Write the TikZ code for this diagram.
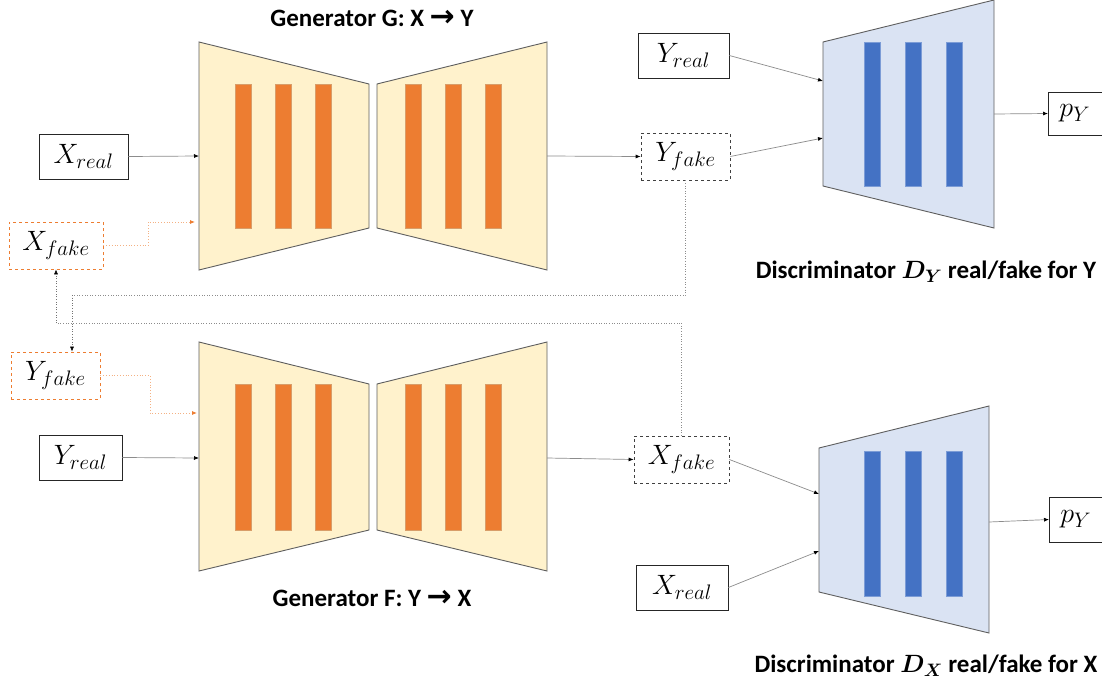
\RequirePackage{fix-cm}
\documentclass[tikz,border=0pt]{standalone}
\usepackage{fontspec}
\usepackage{bm}
\setmainfont{Carlito}
\newfontfamily\arrowfont{DejaVu Sans}
\usetikzlibrary{arrows.meta}
\DeclareMathSizes{28}{28}{21}{16}
\DeclareMathSizes{25}{25}{18}{14}
\definecolor{genfill}{HTML}{FFF2CC}
\definecolor{genbar}{HTML}{ED7D31}
\definecolor{disfill}{HTML}{DAE3F3}
\definecolor{disbar}{HTML}{4472C4}
\definecolor{edgegray}{HTML}{5F5F5F}
\definecolor{linegray}{HTML}{8C8C8C}
\definecolor{orangelight}{HTML}{F4B183}
\tikzset{
  gen/.style={fill=genfill, draw=edgegray, line width=0.9pt},
  gbar/.style={fill=genbar, draw=genbar!80!black!60!genfill, line width=0.4pt},
  dis/.style={fill=disfill, draw=edgegray, line width=0.9pt},
  dbar/.style={fill=disbar, draw=disbar!70!white, line width=0.4pt},
  box/.style={draw=black!85, line width=0.7pt, fill=white, inner sep=0pt, minimum height=45, font=\fontsize{28}{31}\selectfont},
  fakebox/.style={box, draw=black!75, dashed},
  obox/.style={box, draw=genbar, dashed},
  conn/.style={draw=linegray, line width=0.7pt, -{Latex[length=5pt,width=4pt,color=black]}},
  dconn/.style={draw=black!55, line width=0.6pt, dotted, -{Latex[length=5pt,width=4pt,color=black]}},
  dline/.style={draw=black!45, line width=0.6pt, dotted},
  oconn/.style={draw=orangelight, line width=0.8pt, dotted, -{Latex[length=5pt,width=4pt,color=genbar]}},
  captext/.style={font=\fontsize{25}{28}\selectfont\bfseries, inner sep=0pt},
}
\begin{document}
\begin{tikzpicture}[x=1pt,y=-1pt]
\clip (0,0) rectangle (1102,685);
\fill[white] (0,0) rectangle (1102,685);

% ---------- Generator G ----------
\draw[gen] (199,42) -- (369,84) -- (369,228) -- (199,270) -- cycle;
\draw[gen] (377,84) -- (547,42) -- (547,270) -- (377,228) -- cycle;
\foreach \x in {235,275,315,405,445,485} \draw[gbar] (\x,84) rectangle (\x+16,228);
% ---------- Generator F ----------
\draw[gen] (199,342) -- (369,384) -- (369,530) -- (199,571) -- cycle;
\draw[gen] (377,384) -- (547,342) -- (547,571) -- (377,530) -- cycle;
\foreach \x in {235,275,315,405,445,485} \draw[gbar] (\x,384) rectangle (\x+16,530);
% ---------- Discriminator D_Y ----------
\draw[dis] (823,42) -- (994,0) -- (994,228) -- (823,186) -- cycle;
\foreach \x in {864,905,946} \draw[dbar] (\x,42) rectangle (\x+16,186);
% ---------- Discriminator D_X ----------
\draw[dis] (819,448) -- (989,406) -- (989,633) -- (819,592) -- cycle;
\foreach \x in {864,905,946} \draw[dbar] (\x,451) rectangle (\x+16,596);

% ---------- coordinates on shapes ----------
\coordinate (gin)  at (199,156);
\coordinate (gin2) at (199,222);
\coordinate (gout) at (547,156);
\coordinate (fin)  at (199,458);
\coordinate (fin2) at (199,413);
\coordinate (fout) at (547,458);
\coordinate (dyin1) at (823,81);
\coordinate (dyin2) at (823,138);
\coordinate (dyout) at (994,114);
\coordinate (dxin1) at (819,494);
\coordinate (dxin2) at (819,551);
\coordinate (dxout) at (989,522);
\coordinate (c1) at (72,295);
\coordinate (c2) at (56,323);
\coordinate (o1) at (148,0);
\coordinate (o2) at (150,0);

% ---------- boxes ----------
\node[box, minimum width=89] (xr1) at (83.5,156.5) {$X_{real}$};
\node[box, minimum width=83] (yr2) at (80.5,457.5) {$Y_{real}$};
\node[obox, minimum width=94, minimum height=47] (xf1) at (56,245.5) {$X_{fake}$};
\node[obox, minimum width=89, minimum height=47] (yf2) at (55.5,375.5) {$Y_{fake}$};
\node[fakebox, minimum width=89, minimum height=47] (yf1) at (685.5,156.5) {$Y_{fake}$};
\node[fakebox, minimum width=95, minimum height=47] (xf2) at (681.5,459.5) {$X_{fake}$};
\node[box, minimum width=91] (yr1) at (683.5,55.5) {$Y_{real}$};
\node[box, minimum width=92] (xr2) at (682,587.5) {$X_{real}$};
\node[box, anchor=west, minimum width=64, minimum height=43, text width=56, align=left] (py1) at (1048,113.5) {\hspace*{7pt}$p_Y$};
\node[box, anchor=west, minimum width=64, minimum height=45, text width=56, align=left] (py2) at (1049,519.5) {\hspace*{7pt}$p_Y$};

% ---------- captions ----------
\node[captext] (capg) at (372,18) {Generator G: X {\arrowfont\bfseries\fontsize{30}{30}\selectfont →} Y};
\node[captext] (capf) at (372,598) {Generator F: Y {\arrowfont\bfseries\fontsize{30}{30}\selectfont →} X};
\node[captext] (capdy) at (926,272) {Discriminator $\bm{D_Y}$ real/fake for Y};
\node[captext] (capdx) at (926,666) {Discriminator $\bm{D_X}$ real/fake for X};

% ---------- connectors ----------
\draw[conn] (xr1.east) -- (gin);
\draw[conn] (gout) -- (yf1.west);
\draw[conn] (yr2.east) -- (fin);
\draw[conn] (fout) -- (xf2.west);
\draw[conn] (yr1.east) -- (dyin1);
\draw[conn] (yf1.east) -- (dyin2);
\draw[conn] (dyout) -- (py1.west);
\draw[conn] (xf2.east) -- (dxin1);
\draw[conn] (xr2.east) -- (dxin2);
\draw[conn] (dxout) -- (py2.west);

% orange dotted feed-backs
\draw[oconn] (xf1.east) -| (o1 |- gin2) -- ([xshift=-4pt]gin2);
\draw[oconn] (yf2.east) -| (o2 |- fin2) -- ([xshift=-2pt]fin2);

% black dotted cycle lines
\draw[dline] (yf1.south) |- (c1);
\draw[dconn] (c1) -- (c1 |- yf2.north);
\draw[dline] (xf2.north) |- (c2);
\draw[dconn] (c2) -- (c2 |- xf1.south);
\end{tikzpicture}
\end{document}
